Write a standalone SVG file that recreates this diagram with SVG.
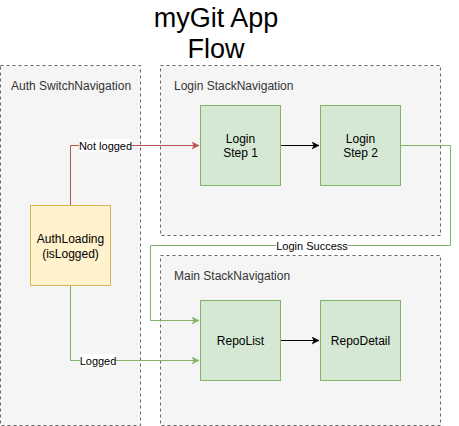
<svg xmlns="http://www.w3.org/2000/svg" width="459" height="426" viewBox="0 0 459 426">
<style>
text{font-family:"Liberation Sans",Arial,Helvetica,sans-serif;}
.cont{fill:#f5f5f5;stroke:#666666;stroke-dasharray:3 3;}
.clabel{font-size:12px;fill:#333333;}
.node{fill:#d5e8d4;stroke:#82b366;}
.auth{fill:#fff2cc;stroke:#d6b656;}
.ntext{font-size:12px;fill:#000;text-anchor:middle;}
.edge{fill:none;stroke-width:1;}
.elabel{font-size:11px;fill:#000;text-anchor:middle;}
.lbg{fill:#ffffff;}
</style>
<defs>
<marker id="arBlack" markerWidth="8" markerHeight="8" refX="7" refY="4" orient="auto" markerUnits="userSpaceOnUse"><path d="M0,0.5 L7,4 L0,7.5 L2,4 Z" fill="#000" stroke="#000" stroke-width="0.5"/></marker>
<marker id="arRed" markerWidth="8" markerHeight="8" refX="7" refY="4" orient="auto" markerUnits="userSpaceOnUse"><path d="M0,0.5 L7,4 L0,7.5 L2,4 Z" fill="#b85450" stroke="#b85450" stroke-width="0.5"/></marker>
<marker id="arGreen" markerWidth="8" markerHeight="8" refX="7" refY="4" orient="auto" markerUnits="userSpaceOnUse"><path d="M0,0.5 L7,4 L0,7.5 L2,4 Z" fill="#82b366" stroke="#82b366" stroke-width="0.5"/></marker>
</defs>
<rect width="459" height="426" fill="#ffffff"/>
<g id="title">
<text x="216" y="27" font-size="27" text-anchor="middle" fill="#000">myGit App</text>
<text x="216" y="58" font-size="27" text-anchor="middle" fill="#000">Flow</text>
</g>
<g id="auth-switch">
<rect class="cont" x="0.5" y="65.5" width="140" height="360"/>
<text class="clabel" x="11" y="90">Auth SwitchNavigation</text>
</g>
<g id="login-stack">
<rect class="cont" x="160.5" y="65.5" width="280" height="170"/>
<text class="clabel" x="174" y="90">Login StackNavigation</text>
</g>
<g id="main-stack">
<rect class="cont" x="160.5" y="255.5" width="280" height="170"/>
<text class="clabel" x="174" y="280">Main StackNavigation</text>
</g>
<g id="connectors">
<path class="edge" stroke="#b85450" d="M70.5,205.5 V145.5 H199" marker-end="url(#arRed)"/>
<rect class="lbg" x="79" y="139" width="53" height="13"/>
<text class="elabel" x="105.5" y="149.5">Not logged</text>
<path class="edge" stroke="#82b366" d="M70.5,285.5 V360.5 H199" marker-end="url(#arGreen)"/>
<rect class="lbg" x="80" y="354" width="36" height="13"/>
<text class="elabel" x="98" y="364.5">Logged</text>
<path class="edge" stroke="#82b366" d="M400.5,145.5 H450.5 V245.5 H150.5 V320.5 H199" marker-end="url(#arGreen)"/>
<rect class="lbg" x="276" y="239" width="72" height="13"/>
<text class="elabel" x="312" y="249.5">Login Success</text>
<path class="edge" stroke="#000" d="M280.5,145.5 H319" marker-end="url(#arBlack)"/>
<path class="edge" stroke="#000" d="M280.5,340.5 H319" marker-end="url(#arBlack)"/>
</g>
<g id="auth-loading">
<rect class="auth" x="30.5" y="205.5" width="80" height="80"/>
<text class="ntext" x="70.5" y="243">AuthLoading</text>
<text class="ntext" x="70.5" y="257.5">(isLogged)</text>
</g>
<g id="login-step-1">
<rect class="node" x="200.5" y="105.5" width="80" height="80"/>
<text class="ntext" x="240.5" y="142.5">Login</text>
<text class="ntext" x="240.5" y="157">Step 1</text>
</g>
<g id="login-step-2">
<rect class="node" x="320.5" y="105.5" width="80" height="80"/>
<text class="ntext" x="360.5" y="142.5">Login</text>
<text class="ntext" x="360.5" y="157">Step 2</text>
</g>
<g id="repo-list">
<rect class="node" x="200.5" y="300.5" width="80" height="80"/>
<text class="ntext" x="240.5" y="344.5">RepoList</text>
</g>
<g id="repo-detail">
<rect class="node" x="320.5" y="300.5" width="80" height="80"/>
<text class="ntext" x="360.5" y="344.5">RepoDetail</text>
</g>
</svg>
